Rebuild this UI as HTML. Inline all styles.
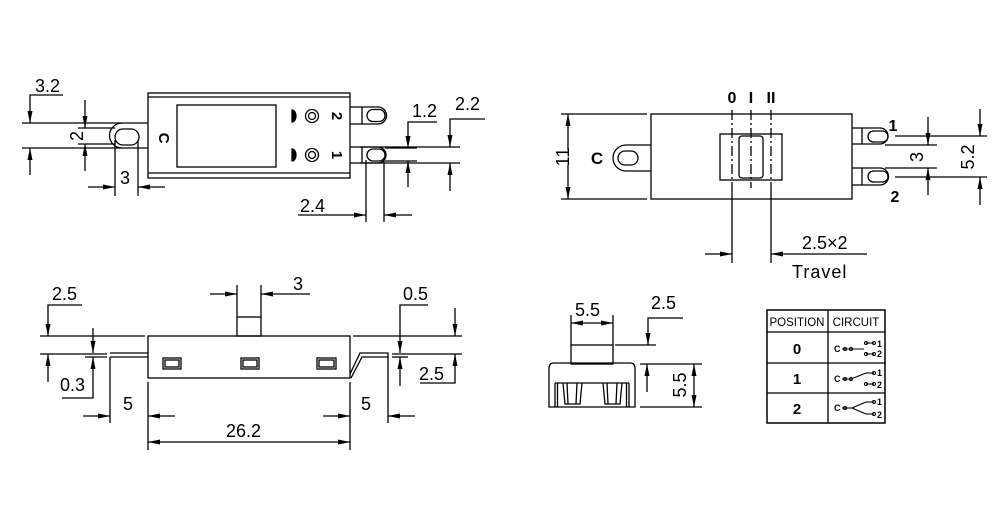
<!DOCTYPE html>
<html><head><meta charset="utf-8"><style>
html,body{margin:0;padding:0;background:#fff;}
svg{display:block;}
text{font-family:"Liberation Sans",sans-serif;fill:#000;}
.t{font-size:18px;}
.b{font-weight:bold;}
</style></head><body>
<svg width="1000" height="506" viewBox="0 0 1000 506" xmlns="http://www.w3.org/2000/svg">
<defs>
<marker id="a" viewBox="0 0 12 6" refX="12" refY="3" markerWidth="12" markerHeight="6" markerUnits="userSpaceOnUse" orient="auto"><path d="M0,0.5 L12,3 L0,5.5 Z" fill="#000"/></marker>
</defs>
<g stroke="#000" stroke-width="1.3" fill="none">
<rect x="148" y="93" width="202" height="85"/>
<line x1="148" y1="97" x2="350" y2="97"/>
<line x1="148" y1="173" x2="350" y2="173"/>
<rect x="177" y="105" width="99" height="62"/>
<path d="M292,110 a4,6 0 0 1 0,12 Z" fill="#000"/>
<path d="M292,149 a4,6 0 0 1 0,12 Z" fill="#000"/>
<circle cx="312" cy="116" r="6.5"/><circle cx="312" cy="116" r="3.5"/>
<circle cx="312" cy="155" r="6.5"/><circle cx="312" cy="155" r="3.5"/>
<path d="M350,107 H378 A8.5,8.5 0 0 1 378,124 H350"/>
<line x1="362" y1="107" x2="362" y2="124"/>
<rect x="367" y="109.5" width="18" height="12" rx="6"/>
<path d="M350,147 H378 A8,8 0 0 1 378,163 H350"/>
<line x1="362" y1="147" x2="362" y2="163"/>
<rect x="367" y="149" width="18" height="12" rx="6"/>
<path d="M148,123 H122 A12.5,12.5 0 0 0 122,148 H148"/>
<rect x="115" y="129" width="24" height="16" rx="8"/>
<line x1="22" y1="123" x2="122" y2="123"/>
<line x1="22" y1="148" x2="122" y2="148"/>
<polyline points="63,95 30,95 30,123" marker-end="url(#a)"/>
<line x1="30" y1="175" x2="30" y2="148" marker-end="url(#a)"/>
<line x1="78" y1="128" x2="115" y2="128"/>
<line x1="78" y1="144" x2="115" y2="144"/>
<line x1="85" y1="100" x2="85" y2="128" marker-end="url(#a)"/>
<line x1="85" y1="171" x2="85" y2="144" marker-end="url(#a)"/>
<line x1="115" y1="140" x2="115" y2="196"/>
<line x1="138" y1="140" x2="138" y2="196"/>
<line x1="88" y1="187" x2="115" y2="187" marker-end="url(#a)"/>
<line x1="165" y1="187" x2="138" y2="187" marker-end="url(#a)"/>
<line x1="385" y1="148" x2="417" y2="148"/>
<line x1="385" y1="161" x2="417" y2="161"/>
<line x1="360" y1="147" x2="460" y2="147"/>
<line x1="360" y1="163" x2="460" y2="163"/>
<polyline points="437,122 408,122 408,148" marker-end="url(#a)"/>
<line x1="408" y1="187" x2="408" y2="161" marker-end="url(#a)"/>
<polyline points="485,119 450,119 450,147" marker-end="url(#a)"/>
<line x1="450" y1="191" x2="450" y2="163" marker-end="url(#a)"/>
<line x1="366" y1="160" x2="366" y2="222"/>
<line x1="384" y1="160" x2="384" y2="222"/>
<line x1="298" y1="215" x2="366" y2="215" marker-end="url(#a)"/>
<line x1="412" y1="215" x2="384" y2="215" marker-end="url(#a)"/>

<rect x="651" y="114" width="201" height="85"/>
<line x1="561" y1="114" x2="647" y2="114"/>
<line x1="561" y1="199" x2="647" y2="199"/>
<line x1="568" y1="150" x2="568" y2="114" marker-end="url(#a)"/>
<line x1="568" y1="165" x2="568" y2="199" marker-end="url(#a)"/>
<path d="M651,145 H626 A13,13 0 0 0 626,171 H651"/>
<rect x="618" y="151" width="20" height="14" rx="7"/>
<rect x="720" y="134" width="62" height="46"/>
<rect x="739" y="136" width="24" height="42" rx="3"/>
<g stroke-dasharray="10,3,2,3">
<line x1="732" y1="110" x2="732" y2="188"/>
<line x1="751" y1="110" x2="751" y2="188"/>
<line x1="771" y1="110" x2="771" y2="188"/>
</g>
<line x1="732" y1="188" x2="732" y2="263"/>
<line x1="771" y1="188" x2="771" y2="263"/>
<line x1="705" y1="254" x2="732" y2="254" marker-end="url(#a)"/>
<line x1="867" y1="254" x2="771" y2="254" marker-end="url(#a)"/>
<path d="M852,128 H880 A8,8 0 0 1 880,144 H852"/>
<line x1="862" y1="128" x2="862" y2="144"/>
<rect x="868" y="131" width="20" height="11" rx="5.5"/>
<path d="M852,168 H880 A8.5,8.5 0 0 1 880,185 H852"/>
<line x1="862" y1="168" x2="862" y2="185"/>
<rect x="868" y="171" width="20" height="11" rx="5.5"/>
<line x1="895" y1="136" x2="987" y2="136"/>
<line x1="895" y1="177" x2="987" y2="177"/>
<line x1="885" y1="145" x2="937" y2="145"/>
<line x1="885" y1="168" x2="937" y2="168"/>
<line x1="928" y1="117" x2="928" y2="145" marker-end="url(#a)"/>
<line x1="928" y1="195" x2="928" y2="168" marker-end="url(#a)"/>
<line x1="980" y1="109" x2="980" y2="136" marker-end="url(#a)"/>
<line x1="980" y1="205" x2="980" y2="177" marker-end="url(#a)"/>

<rect x="148" y="336" width="202" height="42"/>
<rect x="237" y="317" width="24" height="19"/>
<rect x="163" y="358" width="18" height="11"/><rect x="165" y="360" width="14" height="7"/>
<rect x="241" y="358" width="18" height="11"/><rect x="243" y="360" width="14" height="7"/>
<rect x="317" y="358" width="19" height="11"/><rect x="319" y="360" width="15" height="7"/>
<line x1="110" y1="353" x2="148" y2="353"/>
<line x1="110" y1="357" x2="148" y2="357"/>
<path d="M350,374 L360,353 H388 V357 H362 L351,378"/>
<line x1="40" y1="336" x2="145" y2="336"/>
<line x1="353" y1="336" x2="462" y2="336"/>
<line x1="40" y1="354" x2="107" y2="354"/>
<line x1="392" y1="354" x2="462" y2="354"/>
<line x1="85" y1="357" x2="107" y2="357"/>
<line x1="392" y1="357" x2="408" y2="357"/>
<polyline points="82,305 48,305 48,336" marker-end="url(#a)"/>
<line x1="48" y1="382" x2="48" y2="354" marker-end="url(#a)"/>
<line x1="93" y1="328" x2="93" y2="353" marker-end="url(#a)"/>
<polyline points="62,398 93,398 93,357" marker-end="url(#a)"/>
<line x1="110" y1="357" x2="110" y2="423"/>
<line x1="83" y1="416" x2="110" y2="416" marker-end="url(#a)"/>
<line x1="148" y1="382" x2="148" y2="450"/>
<line x1="350" y1="382" x2="350" y2="450"/>
<line x1="175" y1="416" x2="148" y2="416" marker-end="url(#a)"/>
<line x1="323" y1="416" x2="350" y2="416" marker-end="url(#a)"/>
<line x1="249" y1="442" x2="148" y2="442" marker-end="url(#a)"/>
<line x1="249" y1="442" x2="350" y2="442" marker-end="url(#a)"/>
<line x1="388" y1="357" x2="388" y2="423"/>
<line x1="415" y1="416" x2="388" y2="416" marker-end="url(#a)"/>
<line x1="237" y1="317" x2="237" y2="285"/>
<line x1="261" y1="317" x2="261" y2="285"/>
<line x1="210" y1="294" x2="237" y2="294" marker-end="url(#a)"/>
<line x1="310" y1="294" x2="261" y2="294" marker-end="url(#a)"/>
<polyline points="428,305 400,305 400,353" marker-end="url(#a)"/>
<line x1="400" y1="386" x2="400" y2="357" marker-end="url(#a)"/>
<line x1="455" y1="308" x2="455" y2="336" marker-end="url(#a)"/>
<polyline points="420,383 455,383 455,354" marker-end="url(#a)"/>

<rect x="571" y="345" width="42" height="19"/>
<path d="M549,407 V368 Q549,363 554,363 H630 Q635,363 635,368 V407 Z"/>
<line x1="555" y1="383" x2="629" y2="383"/>
<line x1="555" y1="383" x2="555" y2="407"/><line x1="557.5" y1="383" x2="557.5" y2="407"/>
<line x1="629" y1="383" x2="629" y2="407"/><line x1="626.5" y1="383" x2="626.5" y2="407"/>
<path d="M563,383 L565,404 H580 L582,383"/><line x1="567" y1="383" x2="568" y2="404"/><line x1="577" y1="383" x2="576" y2="404"/>
<path d="M603,383 L605,404 H620 L622,383"/><line x1="607" y1="383" x2="608" y2="404"/><line x1="617" y1="383" x2="616" y2="404"/>
<line x1="571" y1="345" x2="571" y2="315"/>
<line x1="613" y1="345" x2="613" y2="315"/>
<line x1="592" y1="323" x2="571" y2="323" marker-end="url(#a)"/>
<line x1="592" y1="323" x2="613" y2="323" marker-end="url(#a)"/>
<line x1="615" y1="345" x2="656" y2="345"/>
<polyline points="683,318 648,318 648,345" marker-end="url(#a)"/>
<line x1="640" y1="364" x2="702" y2="364"/>
<line x1="640" y1="407" x2="702" y2="407"/>
<line x1="647" y1="392" x2="647" y2="364" marker-end="url(#a)"/>
<line x1="694" y1="385" x2="694" y2="364" marker-end="url(#a)"/>
<line x1="694" y1="385" x2="694" y2="407" marker-end="url(#a)"/>

<rect x="767" y="310" width="118" height="113" stroke-width="1.5"/>
<line x1="828" y1="310" x2="828" y2="423"/>
<line x1="767" y1="332" x2="885" y2="332"/>
<line x1="767" y1="363" x2="885" y2="363"/>
<line x1="767" y1="393" x2="885" y2="393"/>
<g stroke-width="1.1">
<line x1="842" y1="349" x2="864" y2="349"/>
<circle cx="845" cy="349" r="1.5"/><circle cx="851" cy="349" r="1.5"/>
<line x1="866" y1="343" x2="874" y2="343"/><circle cx="866" cy="343" r="1.5"/><circle cx="874" cy="343" r="1.5"/>
<line x1="866" y1="354" x2="874" y2="354"/><circle cx="866" cy="354" r="1.5"/><circle cx="874" cy="354" r="1.5"/>
<line x1="842" y1="379" x2="851" y2="379"/>
<circle cx="845" cy="379" r="1.5"/><circle cx="851" cy="379" r="1.5"/>
<line x1="851" y1="379" x2="866" y2="373"/>
<line x1="866" y1="373" x2="874" y2="373"/><circle cx="874" cy="373" r="1.5"/>
<line x1="866" y1="384" x2="874" y2="384"/><circle cx="866" cy="384" r="1.5"/><circle cx="874" cy="384" r="1.5"/>
<line x1="842" y1="408" x2="852" y2="408"/>
<circle cx="845" cy="408" r="1.5"/>
<line x1="852" y1="408" x2="866" y2="402"/>
<line x1="852" y1="408" x2="866" y2="414"/>
<line x1="866" y1="402" x2="874" y2="402"/><circle cx="874" cy="402" r="1.5"/>
<line x1="866" y1="414" x2="874" y2="414"/><circle cx="874" cy="414" r="1.5"/>
</g>
</g>

<g class="t">
<text x="35" y="92">3.2</text>
<text x="78" y="136" transform="rotate(-90 78 136)" text-anchor="middle" dominant-baseline="middle">2</text>
<text x="120" y="184">3</text>
<text x="412" y="117">1.2</text>
<text x="455" y="110">2.2</text>
<text x="300" y="212">2.4</text>
<text x="564" y="157" transform="rotate(-90 564 157)" text-anchor="middle" dominant-baseline="middle">11</text>
<text x="918" y="157" transform="rotate(-90 918 157)" text-anchor="middle" dominant-baseline="middle">3</text>
<text x="969" y="157" transform="rotate(-90 969 157)" text-anchor="middle" dominant-baseline="middle">5.2</text>
<text x="802" y="249">2.5×2</text>
<text x="792" y="278" letter-spacing="1">Travel</text>
<text x="52" y="300">2.5</text>
<text x="293" y="290">3</text>
<text x="403" y="300">0.5</text>
<text x="60" y="391">0.3</text>
<text x="123" y="410">5</text>
<text x="419" y="380">2.5</text>
<text x="361" y="410">5</text>
<text x="226" y="437">26.2</text>
<text x="575" y="316">5.5</text>
<text x="651" y="309">2.5</text>
<text x="681" y="385" transform="rotate(-90 681 385)" text-anchor="middle" dominant-baseline="middle">5.5</text>
</g>
<g class="b">
<text x="163" y="138" font-size="15" transform="rotate(90 163 138)" text-anchor="middle" dominant-baseline="middle">C</text>
<text x="336" y="116" font-size="15" transform="rotate(90 336 116)" text-anchor="middle" dominant-baseline="middle">2</text>
<text x="336" y="155" font-size="15" transform="rotate(90 336 155)" text-anchor="middle" dominant-baseline="middle">1</text>
<text x="597" y="164" font-size="17" text-anchor="middle">C</text>
<text x="732" y="103" font-size="16" text-anchor="middle">0</text>
<text x="751" y="103" font-size="16" text-anchor="middle">I</text>
<text x="771" y="103" font-size="16" text-anchor="middle">II</text>
<text x="893" y="131" font-size="16" text-anchor="middle">1</text>
<text x="895" y="202" font-size="16" text-anchor="middle">2</text>
<text x="797" y="354" font-size="15" text-anchor="middle">0</text>
<text x="797" y="384" font-size="15" text-anchor="middle">1</text>
<text x="797" y="414" font-size="15" text-anchor="middle">2</text>
<g font-size="9">
<text x="834" y="352">C</text><text x="877" y="347">1</text><text x="877" y="357">2</text>
<text x="834" y="382">C</text><text x="877" y="376">1</text><text x="877" y="388">2</text>
<text x="834" y="411">C</text><text x="877" y="405">1</text><text x="877" y="418">2</text>
</g>
</g>
<text x="797" y="326" font-size="11.5" text-anchor="middle">POSITION</text>
<text x="856" y="326" font-size="11.5" text-anchor="middle">CIRCUIT</text>
</svg>
</body></html>
